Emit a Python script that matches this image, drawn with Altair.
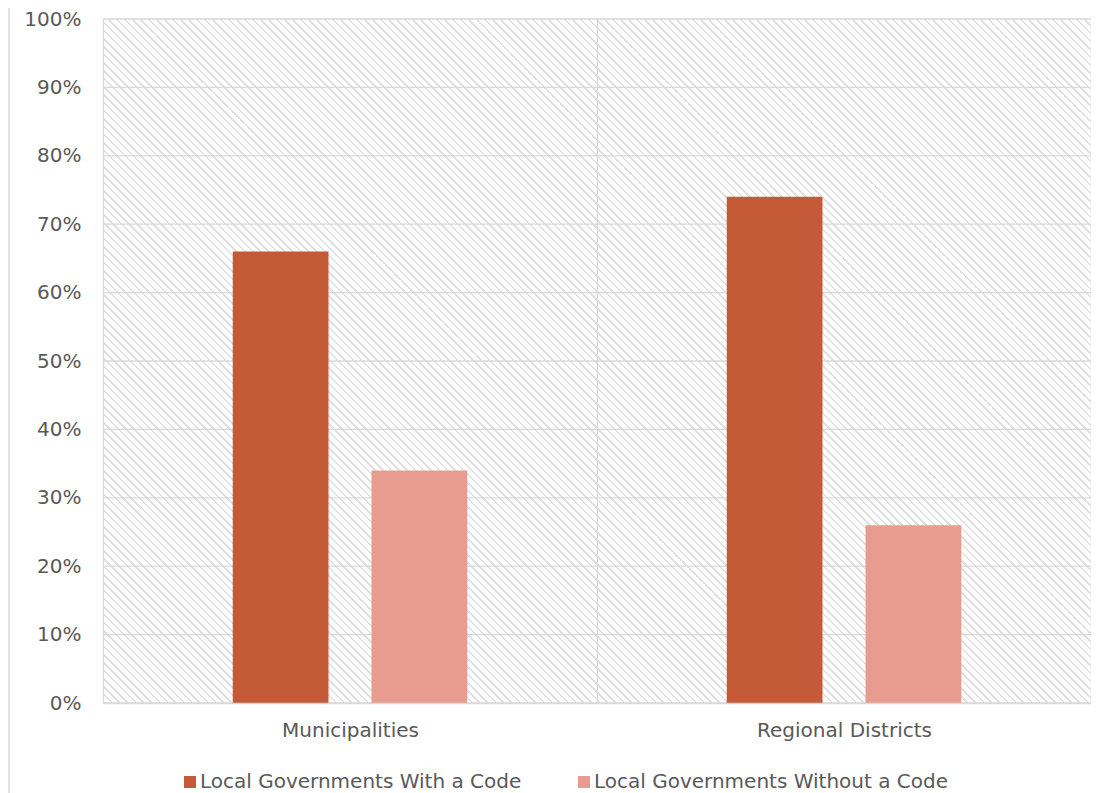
import altair as alt
import pandas as pd

# ---- data ----
categories = ["Municipalities", "Regional Districts"]
series = ["Local Governments With a Code", "Local Governments Without a Code"]
with_code = [0.66, 0.74]
without_code = [0.34, 0.26]
y_ticks = [0.0, 0.1, 0.2, 0.3, 0.4, 0.5, 0.6, 0.7, 0.8, 0.9, 1.0]
colors = ["#C55A38", "#E89C8F"]

rows = []
for i, c in enumerate(categories):
    rows.append({"category": c, "series": series[0], "value": with_code[i]})
    rows.append({"category": c, "series": series[1], "value": without_code[i]})
df = pd.DataFrame(rows)

# ---- layout / style ----
W, H = 988, 684
FONT = "DejaVu Sans"
FS = 20
GRID = "#d9d9d9"
TXT = "#595959"

# diagonal hatch background as a striped linear gradient
n_stripes = 209
duty = 0.35
hatch_gray = "#e2e2e2"
stops = []
for k in range(n_stripes):
    a = round(k / n_stripes, 6)
    b = round((k + duty) / n_stripes, 6)
    c = round((k + 1) / n_stripes, 6)
    stops += [
        alt.GradientStop(offset=a, color=hatch_gray),
        alt.GradientStop(offset=b, color=hatch_gray),
        alt.GradientStop(offset=b, color="#ffffff"),
        alt.GradientStop(offset=c, color="#ffffff"),
    ]
hatch_grad = alt.LinearGradient(gradient="linear", stops=stops,
                                x1=0, y1=1, x2=1.144, y2=0.208)

one = pd.DataFrame({"a": [0]})

hatch = alt.Chart(one).mark_rect(color=hatch_grad).encode(
    x=alt.value(0), x2=alt.value(W), y=alt.value(0), y2=alt.value(H)
)

yscale = alt.Scale(domain=[0, 1], nice=False)
yaxis = alt.Axis(format="%", values=y_ticks, grid=False, ticks=False,
                 domain=False, labelPadding=22, zindex=1)

grid = alt.Chart(pd.DataFrame({"t": y_ticks})).mark_rule(
    color=GRID, strokeWidth=1.3
).encode(y=alt.Y("t:Q", scale=yscale, axis=yaxis, title=None))

bars = alt.Chart(df).mark_bar().encode(
    x=alt.X("category:N", sort=categories, title=None,
            scale=alt.Scale(paddingInner=0, paddingOuter=0),
            axis=alt.Axis(labelAngle=0, grid=True, tickBand="extent",
                          gridColor=GRID, gridWidth=1.3, domainColor=GRID,
                          domainWidth=1.3, ticks=False, labelPadding=17,
                          zindex=1)),
    xOffset=alt.XOffset("series:N", sort=series,
                        scale=alt.Scale(paddingInner=0.31, paddingOuter=0.935)),
    y=alt.Y("value:Q", scale=yscale, title=None, axis=yaxis),
    color=alt.Color("series:N",
                    scale=alt.Scale(domain=series, range=colors),
                    legend=alt.Legend(title=None, orient="none", legendX=77,
                                      legendY=753, direction="horizontal",
                                      symbolType="square", symbolSize=144,
                                      symbolStrokeWidth=0, labelFontSize=FS,
                                      labelColor=TXT, labelFont=FONT,
                                      labelLimit=0,
                                      columnPadding=52, labelOffset=0,
                                      padding=0)),
)

border = alt.Chart(one).mark_rule(color=GRID, strokeWidth=1.5).encode(
    x=alt.value(-94), y=alt.value(-19), y2=alt.value(H + 100)
)

chart = alt.layer(hatch, grid, bars, border).properties(
    width=W, height=H,
    autosize=alt.AutoSizeParams(type="none"),
    padding={"left": 95, "top": 11, "right": 0, "bottom": 90},
).configure_view(stroke=None).configure_axis(
    labelFont=FONT, labelFontSize=FS, labelColor=TXT
)

chart.save("out.html", embed_options={"renderer": "svg", "actions": False})
